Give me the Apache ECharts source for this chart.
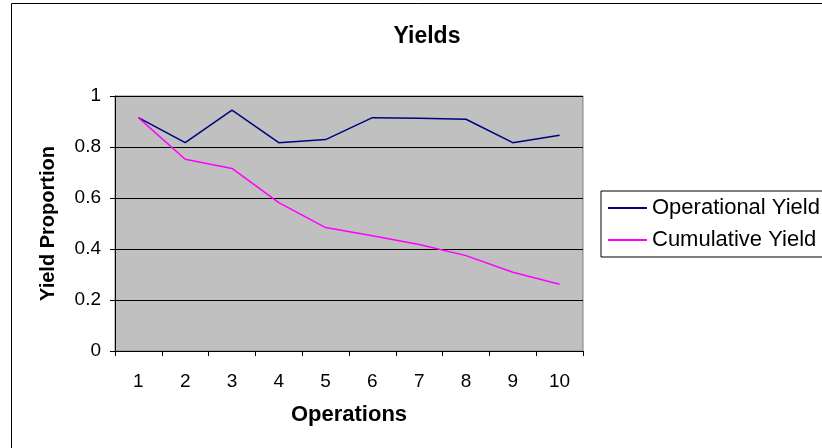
<!DOCTYPE html>
<html lang="en">
<head>
    <meta charset="UTF-8">
    <title>Yields</title>
    <script src="https://cdn.jsdelivr.net/npm/echarts@6/dist/echarts.min.js"></script>
    <style>
        html, body { margin: 0; padding: 0; background: #fff; }
        #main { width: 822px; height: 448px; }
    </style>
</head>
<body>
<div id="main"></div>
<script>
    // data
    var operations = ['1', '2', '3', '4', '5', '6', '7', '8', '9', '10'];
    var operationalYield = [0.915, 0.817, 0.945, 0.817, 0.829, 0.915, 0.913, 0.909, 0.817, 0.846];
    var cumulativeYield = [0.915, 0.752, 0.716, 0.582, 0.484, 0.452, 0.418, 0.374, 0.309, 0.262];

    var font = '"Liberation Sans", Arial, sans-serif';

    var myChart = echarts.init(document.getElementById('main'));

    var option = {
        backgroundColor: '#fff',
        animation: false,
        title: {
            text: 'Yields',
            left: 422,
            textAlign: 'center',
            top: 20,
            textStyle: { fontFamily: font, fontSize: 23, fontWeight: 'bold', color: '#000' }
        },
        legend: {
            orient: 'vertical',
            left: 601,
            top: 191,
            padding: [6, 10, 6, 7],
            itemGap: 10,
            itemWidth: 39,
            itemHeight: 2,
            icon: 'rect',
            backgroundColor: '#fff',
            borderColor: '#000',
            borderWidth: 1,
            borderRadius: 0,
            textStyle: { fontFamily: font, fontSize: 22, color: '#000' },
            data: ['Operational Yield', 'Cumulative Yield']
        },
        grid: {
            left: 115,
            right: 239,
            top: 96,
            bottom: 97,
            show: true,
            backgroundColor: '#C0C0C0',
            borderColor: '#808080',
            borderWidth: 1
        },
        xAxis: {
            type: 'category',
            data: operations,
            boundaryGap: true,
            name: 'Operations',
            nameLocation: 'middle',
            nameGap: 53,
            nameTextStyle: { fontFamily: font, fontSize: 22, fontWeight: 'bold', color: '#000' },
            axisLine: { lineStyle: { color: '#000', width: 1 } },
            axisTick: { show: true, length: 5, lineStyle: { color: '#000' } },
            axisLabel: { fontFamily: font, fontSize: 19, color: '#000', margin: 21 },
            splitLine: { show: false }
        },
        yAxis: {
            type: 'value',
            min: 0,
            max: 1,
            interval: 0.2,
            name: 'Yield Proportion',
            nameLocation: 'middle',
            nameRotate: 90,
            nameGap: 57,
            nameTextStyle: { fontFamily: font, fontSize: 20, fontWeight: 'bold', color: '#000' },
            axisLine: { show: true, lineStyle: { color: '#000', width: 1 } },
            axisTick: { show: true, length: 5, lineStyle: { color: '#000' } },
            axisLabel: { fontFamily: font, fontSize: 19, color: '#000', margin: 14 },
            splitLine: { show: true, lineStyle: { color: '#000', width: 1 } }
        },
        series: [
            {
                name: 'Operational Yield',
                type: 'line',
                data: operationalYield,
                symbol: 'none',
                color: '#000080',
                lineStyle: { color: '#000080', width: 1.5 }
            },
            {
                name: 'Cumulative Yield',
                type: 'line',
                data: cumulativeYield,
                symbol: 'none',
                color: '#FF00FF',
                lineStyle: { color: '#FF00FF', width: 1.5 }
            }
        ],
        graphic: [{
            // outer chart frame (right/bottom run off the picture)
            type: 'rect',
            shape: { x: 11.5, y: 3.5, width: 900, height: 500 },
            style: { fill: null, stroke: '#000', lineWidth: 1 },
            silent: true
        }]
    };

    myChart.setOption(option);
</script>
</body>
</html>
